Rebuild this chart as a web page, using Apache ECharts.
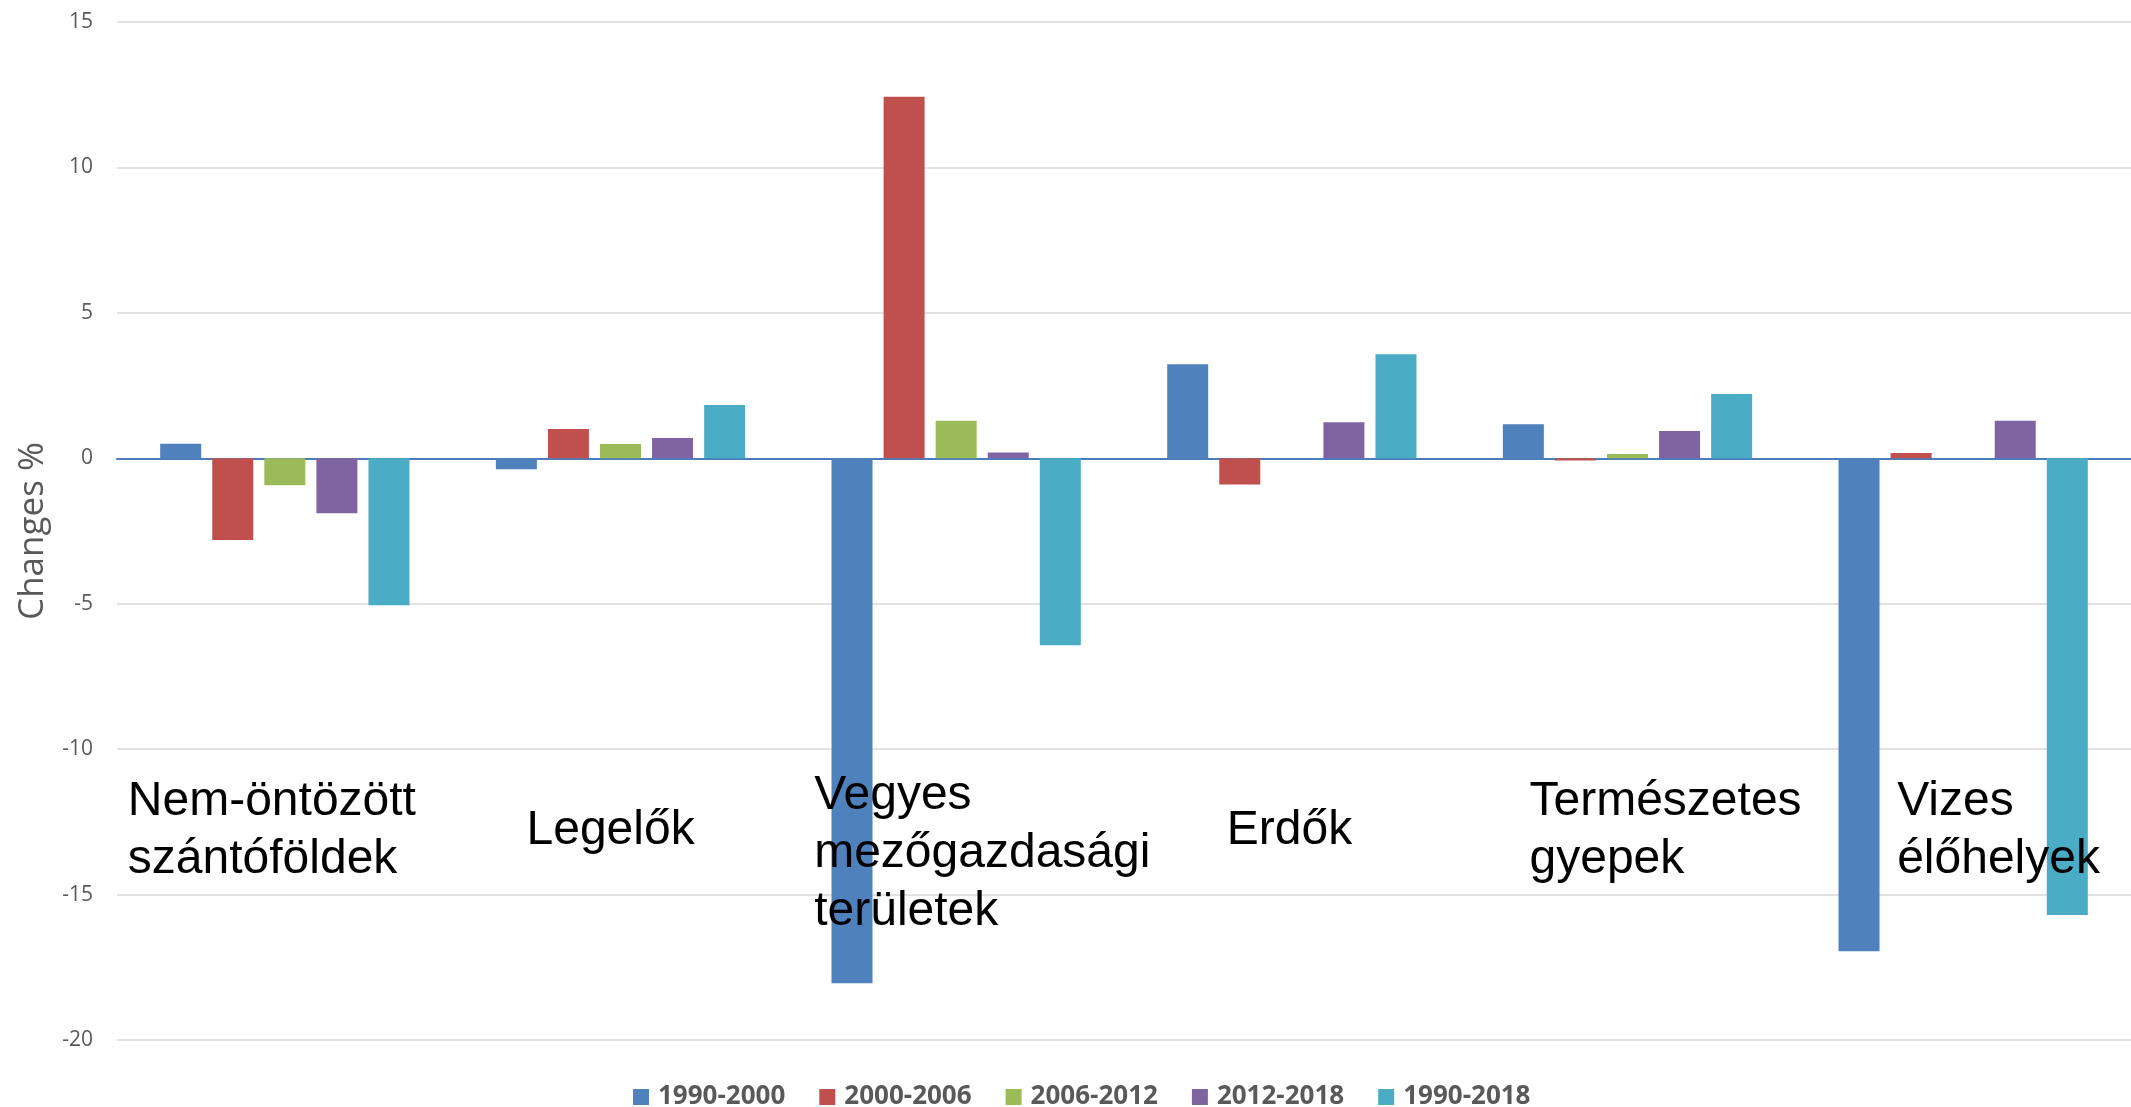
<!DOCTYPE html>
<html>
<head>
<meta charset="utf-8">
<script src="https://cdn.jsdelivr.net/npm/echarts@6/dist/echarts.min.js"></script>
<style>
html,body{margin:0;padding:0;background:#fff;}
#chart{width:2131px;height:1107px;}
</style>
</head>
<body>
<div id="chart"></div>
<script>
const categories = ['Nem-öntözött\nszántóföldek', 'Legelők', 'Vegyes\nmezőgazdasági\nterületek', 'Erdők', 'Természetes\ngyepek', 'Vizes\nélőhelyek'];
const seriesNames = ['1990-2000', '2000-2006', '2006-2012', '2012-2018', '1990-2018'];
const s1990_2000 = [0.5, -0.38, -18.05, 3.23, 1.17, -16.95];
const s2000_2006 = [-2.81, 1.01, 12.43, -0.9, -0.08, 0.18];
const s2006_2012 = [-0.93, 0.49, 1.29, 0, 0.15, 0];
const s2012_2018 = [-1.89, 0.70, 0.2, 1.24, 0.94, 1.29];
const s1990_2018 = [-5.05, 1.83, -6.43, 3.58, 2.21, -15.7];
const yTicks = {min: -20, max: 15, interval: 5};

const colors = ['#4f81bd', '#c0504d', '#9bbb59', '#8064a2', '#4bacc6'];
const seriesData = [s1990_2000, s2000_2006, s2006_2012, s2012_2018, s1990_2018];
// label placement (style): left offset from category centre, vertical centre in px
const labelShift = [-157, -94, -142, -65, -98, -66];
const labelCenterY = [831, 831, 854, 831, 831, 831];

const chart = echarts.init(document.getElementById('chart'));
const option = {
  animation: false,
  backgroundColor: '#ffffff',
  color: colors,
  grid: {left: 117, width: 2031, top: 22, bottom: 67, containLabel: false},
  legend: {
    data: seriesNames,
    left: 628, top: 1079,
    itemWidth: 16, itemHeight: 16, itemGap: 34,
    icon: 'rect',
    textStyle: {fontFamily: '"Open Sans", sans-serif', fontWeight: 'bold', fontSize: 26, color: '#595959', padding: [0,0,0,4]}
  },
  xAxis: {
    type: 'category',
    data: categories,
    axisLine: {onZero: true, lineStyle: {color: '#4a7ebb', width: 2}},
    axisTick: {show: false},
    axisLabel: {show: false},
    splitLine: {show: false}
  },
  yAxis: {
    type: 'value',
    min: yTicks.min, max: yTicks.max, interval: yTicks.interval,
    name: 'Changes %',
    nameLocation: 'middle',
    nameGap: 66,
    nameTextStyle: {fontFamily: '"Open Sans", sans-serif', fontSize: 35, color: '#595959'},
    axisLine: {show: false},
    axisTick: {show: false},
    axisLabel: {fontFamily: '"Open Sans", sans-serif', fontSize: 21, color: '#595959', margin: 24},
    splitLine: {lineStyle: {color: '#d9d9d9', width: 1.5}}
  },
  series: seriesNames.map((n, i) => ({
    name: n,
    type: 'bar',
    data: seriesData[i],
    barWidth: 41,
    barGap: '27%',
    itemStyle: {color: colors[i]}
  }))
};
chart.setOption(option);

const graphics = categories.map((c, i) => {
  const cx = chart.convertToPixel({xAxisIndex: 0}, i);
  return {
    type: 'text',
    x: cx + labelShift[i],
    y: labelCenterY[i],
    z: 100,
    style: {
      text: c,
      fill: '#000000',
      font: '48px "Liberation Sans", Arial, sans-serif',
      lineHeight: 58,
      textAlign: 'left',
      textVerticalAlign: 'middle'
    }
  };
});
chart.setOption({graphic: graphics});
</script>
</body>
</html>
